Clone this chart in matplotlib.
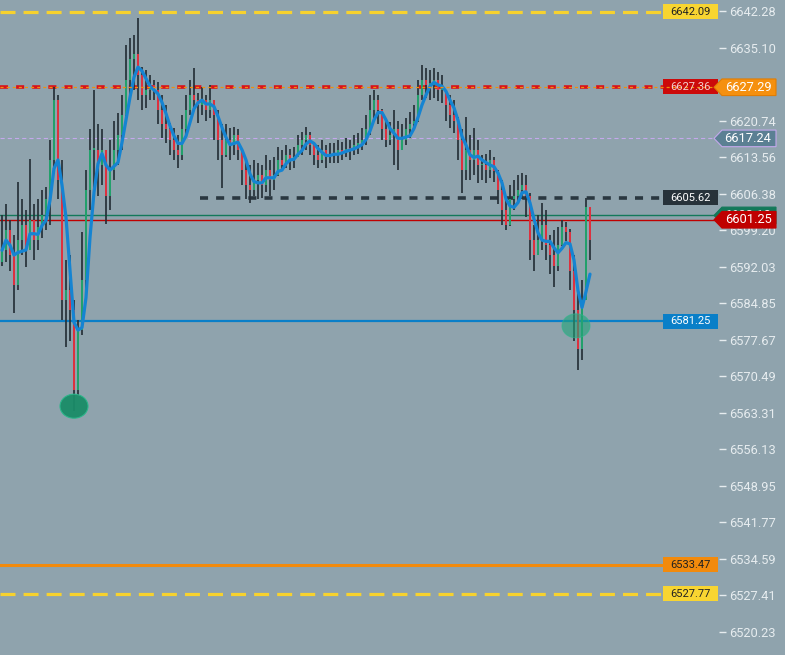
import numpy as np
import pandas as pd
import matplotlib
matplotlib.use("Agg")
import matplotlib.pyplot as plt
from matplotlib.patches import Polygon, Rectangle, Ellipse
from matplotlib.transforms import blended_transform_factory

plt.rcParams['font.family'] = ['Roboto', 'DejaVu Sans']
plt.rcParams['lines.scale_dashes'] = False

# candle data (open = previous close)
first_open = 6593.00
highs = [
    6602.25, 6604.25, 6601.25, 6598.25, 6608.75, 6605.25, 6603.25, 6613.25, 6604.25, 6605.25,
    6607.00, 6607.75, 6617.00, 6627.25, 6625.75, 6613.00, 6593.25, 6594.25, 6585.50, 6581.50,
    6598.75, 6611.00, 6619.00, 6626.75, 6620.00, 6619.00, 6615.00, 6617.00, 6620.75, 6622.25,
    6625.75, 6635.50, 6637.00, 6637.50, 6641.00, 6631.25, 6630.75, 6629.75, 6628.75, 6628.25,
    6625.75, 6623.75, 6620.25, 6619.25, 6618.00, 6621.75, 6625.75, 6628.75, 6631.00, 6626.25,
    6627.25, 6625.75, 6627.75, 6624.75, 6622.75, 6620.00, 6620.00, 6619.25, 6619.50, 6619.00,
    6615.00, 6613.00, 6612.00, 6613.00, 6612.50, 6612.00, 6614.00, 6613.00, 6613.50, 6615.50,
    6615.00, 6616.00, 6615.25, 6615.50, 6618.00, 6618.50, 6619.50, 6618.50, 6616.25, 6616.00,
    6617.00, 6616.00, 6616.25, 6616.25, 6617.00, 6616.50, 6617.25, 6617.00, 6618.00, 6618.25,
    6619.25, 6621.75, 6625.75, 6626.75, 6625.75, 6623.00, 6620.75, 6620.50, 6622.75, 6620.75,
    6620.00, 6621.25, 6622.50, 6623.75, 6628.75, 6631.75, 6631.00, 6630.75, 6631.00, 6630.25,
    6629.75, 6626.75, 6625.75, 6624.75, 6621.50, 6619.00, 6621.50, 6618.00, 6619.25, 6617.00,
    6614.00, 6614.25, 6615.00, 6613.50, 6611.00, 6609.00, 6606.00, 6608.00, 6609.00, 6610.00,
    6610.50, 6610.00, 6606.50, 6600.25, 6602.25, 6604.50, 6603.25, 6598.25, 6599.25, 6599.75,
    6601.25, 6600.75, 6599.50, 6594.25, 6587.50, 6589.50, 6605.50, 6603.75,
]
lows = [
    6592.25, 6593.00, 6591.25, 6583.00, 6587.50, 6594.25, 6592.00, 6596.25, 6593.25, 6595.25,
    6597.75, 6599.25, 6600.25, 6611.00, 6605.25, 6581.50, 6576.25, 6577.50, 6563.75, 6566.75,
    6578.50, 6587.50, 6603.25, 6607.00, 6606.00, 6608.00, 6600.50, 6603.25, 6609.00, 6612.00,
    6615.00, 6621.50, 6625.75, 6626.75, 6624.75, 6622.75, 6623.25, 6624.75, 6624.75, 6620.00,
    6617.25, 6616.25, 6614.00, 6613.00, 6611.50, 6613.00, 6618.00, 6621.75, 6622.75, 6620.25,
    6621.75, 6620.75, 6621.25, 6617.00, 6613.00, 6607.50, 6613.50, 6613.00, 6614.00, 6613.00,
    6608.00, 6605.25, 6604.50, 6606.00, 6605.25, 6605.50, 6606.75, 6606.00, 6607.00, 6609.75,
    6610.75, 6611.50, 6611.00, 6611.50, 6613.50, 6614.00, 6615.00, 6614.00, 6612.00, 6611.50,
    6612.50, 6611.50, 6612.50, 6612.50, 6612.50, 6613.00, 6613.50, 6613.00, 6614.00, 6614.25,
    6615.00, 6616.00, 6618.00, 6620.75, 6620.00, 6617.00, 6615.50, 6616.00, 6612.00, 6611.00,
    6615.00, 6616.00, 6617.25, 6619.00, 6620.50, 6624.75, 6625.25, 6624.75, 6625.25, 6624.50,
    6624.25, 6620.75, 6619.25, 6618.25, 6613.00, 6606.50, 6609.00, 6609.00, 6610.00, 6608.50,
    6609.00, 6608.50, 6609.50, 6608.75, 6604.25, 6600.25, 6599.25, 6600.00, 6603.25, 6604.25,
    6605.25, 6601.75, 6593.25, 6591.25, 6594.25, 6595.25, 6593.25, 6590.50, 6588.00, 6591.25,
    6596.00, 6597.00, 6587.50, 6577.50, 6571.75, 6573.75, 6585.50, 6593.25,
]
closes = [
    6595.25, 6599.25, 6594.25, 6588.50, 6597.25, 6600.25, 6595.25, 6601.25, 6597.25, 6599.75,
    6602.25, 6605.25, 6613.00, 6624.75, 6609.00, 6585.50, 6587.50, 6583.50, 6567.75, 6579.50,
    6589.50, 6607.00, 6615.00, 6615.00, 6612.00, 6615.00, 6606.00, 6611.00, 6615.00, 6618.00,
    6621.75, 6628.75, 6632.75, 6633.75, 6629.75, 6625.75, 6626.75, 6627.75, 6626.75, 6622.75,
    6620.00, 6619.00, 6617.00, 6615.00, 6614.00, 6619.00, 6622.75, 6625.75, 6624.75, 6623.75,
    6624.75, 6622.75, 6624.75, 6621.75, 6617.00, 6614.00, 6617.00, 6616.00, 6618.00, 6615.00,
    6611.00, 6608.00, 6607.00, 6609.00, 6610.00, 6608.00, 6611.00, 6609.00, 6610.00, 6613.00,
    6612.00, 6614.00, 6613.00, 6613.50, 6616.00, 6617.00, 6618.00, 6616.00, 6614.00, 6613.00,
    6615.00, 6613.50, 6614.00, 6614.00, 6615.00, 6614.50, 6615.25, 6615.00, 6616.00, 6616.00,
    6617.00, 6619.00, 6622.75, 6624.75, 6622.75, 6619.00, 6617.00, 6618.00, 6619.00, 6615.00,
    6617.00, 6619.00, 6620.00, 6620.75, 6625.75, 6628.75, 6627.75, 6627.75, 6628.75, 6626.75,
    6626.75, 6623.75, 6621.75, 6620.75, 6617.00, 6611.00, 6615.00, 6613.00, 6615.00, 6612.00,
    6612.00, 6611.00, 6613.00, 6610.75, 6607.00, 6603.25, 6600.25, 6605.25, 6606.00, 6607.00,
    6608.00, 6606.00, 6597.25, 6594.25, 6597.25, 6600.25, 6596.25, 6594.25, 6592.25, 6596.25,
    6599.75, 6598.75, 6591.25, 6583.50, 6575.75, 6585.50, 6603.75, 6597.25,
]
opens = [first_open] + closes[:-1]
ma_window = 4

tick_values = [6642.28, 6635.10, 6627.92, 6620.74, 6613.56, 6606.38, 6599.20, 6592.03, 6584.85,
               6577.67, 6570.49, 6563.31, 6556.13, 6548.95, 6541.77, 6534.59, 6527.41, 6520.23]
tick_labels = ["6642.28", "6635.10", "6627.92", "6620.74", "6613.56", "6606.38", "6599.20",
               "6592.03", "6584.85", "6577.67", "6570.49", "6563.31", "6556.13", "6548.95",
               "6541.77", "6534.59", "6527.41", "6520.23"]

yellow_levels = [6642.09, 6527.77]
red_dash_level = 6627.36
orange_dash_level = 6627.29
lavender_level = 6617.24
dark_dash_level = 6605.62
green_level = 6602.10
red_level = 6601.25
blue_level = 6581.25
orange_level = 6533.47

circle_x = [18.5, 144.0]
circle_y = [6564.6, 6580.4]

BG = '#8fa3ad'
WICK = '#263038'
UP = '#22a06b'
DOWN = '#dc313f'
TXT = '#e6ecef'

W, H = 785, 655
fig = plt.figure(figsize=(W / 100, H / 100), dpi=100, facecolor=BG)
ax = fig.add_axes([0, 0, 719 / W, 1])
ax.set_facecolor(BG)
ax.set_xlim(0, 719 / 4)
ax.set_ylim(6515.70, 6644.44)
PY = (6644.44 - 6515.70) / H   # price per pixel

# candles
x = np.arange(len(closes)) + 0.5
o = np.array(opens)
c = np.array(closes)
up = c >= o
bot = np.minimum(o, c)
bh = np.maximum(np.abs(c - o), 0.3)
ax.vlines(x, lows, highs, color=WICK, lw=1.25, zorder=2)
ax.bar(x[up], bh[up], bottom=bot[up], width=0.7, color=UP, zorder=3)
ax.bar(x[~up], bh[~up], bottom=bot[~up], width=0.7, color=DOWN, zorder=3)

ma = pd.Series(closes).rolling(ma_window, min_periods=1).mean()
ax.plot(x, ma, color='#1584d2', lw=2.3, zorder=4, solid_capstyle='round')

# horizontal levels
xe = 665 / 719
for lv in yellow_levels:
    ax.axhline(lv, 0, xe, color='#f7d22e', lw=2.3, ls=(0, (10.8, 5.8)), zorder=1.5)
ax.axhline(red_dash_level, 0, xe, color='#d9121a', lw=2.6, ls=(0, (5.8, 5.8)), zorder=1.5)
ax.axhline(lavender_level, 0, 1, color='#c4a8ec', lw=0.8, ls=(0, (3, 2.2)), zorder=1.5)
ax.axhline(dark_dash_level, 200 / 719, xe, color='#2a3740', lw=2.6, ls=(0, (5.8, 5.8)), zorder=1.5)
ax.axhline(green_level, 0, 1, color='#13795a', lw=1.0, zorder=1.5)
ax.axhline(red_level, 0, 1, color='#c00000', lw=1.0, zorder=1.5)
ax.axhline(blue_level, 0, xe, color='#0a7fc8', lw=1.6, zorder=1.5)
ax.axhline(orange_level, 0, xe, color='#f28a0c', lw=2.2, zorder=1.5)

for cx, cy, fc, a in zip(circle_x, circle_y, ['#1a8c68', '#22a47a'], [0.95, 0.6]):
    ax.add_patch(Ellipse((cx, cy), 28 / 4, 24 * PY, facecolor=fc, edgecolor='#2bb68a',
                         lw=0.8, alpha=a, zorder=5))

# price labels
bt = blended_transform_factory(fig.transFigure, ax.transData)


def left_box(price, text, face, tc):
    x0, x1 = 663 / W, 718 / W
    h = 7.5 * PY
    ax.add_patch(Rectangle((x0, price - h), x1 - x0, 2 * h, transform=bt, facecolor=face,
                           edgecolor='none', clip_on=False, zorder=6))
    ax.text((x0 + x1) / 2, price, text, transform=bt, ha='center', va='center', fontsize=8,
            color=tc, zorder=7, clip_on=False)


def right_box(price, text, face, edge, tc, z):
    h = 8.3 * PY
    pts = [(714 / W, price), (722 / W, price + h), (776 / W, price + h),
           (776 / W, price - h), (722 / W, price - h)]
    ax.add_patch(Polygon(pts, closed=True, transform=bt, facecolor=face, edgecolor=edge,
                         lw=0.8, clip_on=False, zorder=z))
    ax.text(748 / W, price, text, transform=bt, ha='center', va='center', fontsize=9.3,
            color=tc, zorder=z + 0.1, clip_on=False)


left_box(yellow_levels[0], f"{yellow_levels[0]:.2f}", '#f8d531', '#222222')
left_box(red_dash_level, f"{red_dash_level:.2f}", '#cc0a0a', '#f3d0d0')
left_box(dark_dash_level, f"{dark_dash_level:.2f}", '#27323a', '#ffffff')
left_box(blue_level, f"{blue_level:.2f}", '#0a7fc8', '#ffffff')
left_box(orange_level, f"{orange_level:.2f}", '#f28a0c', '#222222')
left_box(yellow_levels[1], f"{yellow_levels[1]:.2f}", '#f8d531', '#222222')

ax.axhline(orange_dash_level, 0, 1, color='#f0900c', lw=0.9, ls=(0, (2.2, 2.2)), zorder=6.5)

right_box(orange_dash_level, f"{orange_dash_level:.2f}", '#f5900f', '#e07d05', '#ffffff', 8)
right_box(lavender_level, f"{lavender_level:.2f}", '#5b8093', '#c4a8ec', '#ffffff', 8)
right_box(green_level, f"{green_level:.2f}", '#13795a', '#13795a', '#ffffff', 8)
right_box(red_level, f"{red_level:.2f}", '#c00000', '#c00000', '#ffffff', 9)

# price axis
ax.yaxis.tick_right()
ax.set_yticks(tick_values, tick_labels)
ax.tick_params(axis='y', colors=TXT, length=5, width=1, pad=2.2, labelsize=9.3)
ax.tick_params(axis='x', bottom=False, labelbottom=False)
for s in ax.spines.values():
    s.set_visible(False)

fig.savefig('out.png', dpi=100, facecolor=BG)
